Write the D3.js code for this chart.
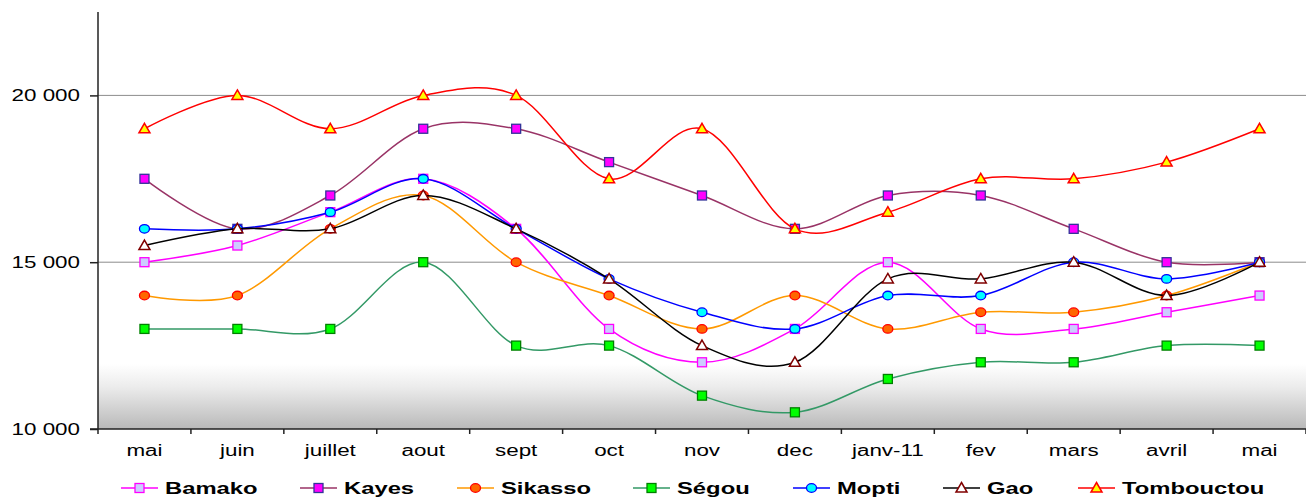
<!DOCTYPE html>
<html><head><meta charset="utf-8">
<script src="https://cdn.jsdelivr.net/npm/d3@7"></script>
<style>body{margin:0;background:#fff}svg{display:block}text{font-family:"Liberation Sans",Arial,sans-serif}</style>
</head><body>
<script>
const months = ["mai","juin","juillet","aout","sept","oct","nov","dec","janv-11","fev","mars","avril","mai"];
const bamako     = [15000,15500,16500,17500,16000,13000,12000,13000,15000,13000,13000,13500,14000];
const kayes      = [17500,16000,17000,19000,19000,18000,17000,16000,17000,17000,16000,15000,15000];
const sikasso    = [14000,14000,16000,17000,15000,14000,13000,14000,13000,13500,13500,14000,15000];
const segou      = [13000,13000,13000,15000,12500,12500,11000,10500,11500,12000,12000,12500,12500];
const mopti      = [16000,16000,16500,17500,16000,14500,13500,13000,14000,14000,15000,14500,15000];
const gao        = [15500,16000,16000,17000,16000,14500,12500,12000,14500,14500,15000,14000,15000];
const tombouctou = [19000,20000,19000,20000,20000,17500,19000,16000,16500,17500,17500,18000,19000];
const seriesNames = ["Bamako","Kayes","Sikasso","Ségou","Mopti","Gao","Tombouctou"];
const yTicks = [10000,15000,20000];
const yTickLabels = ["10 000","15 000","20 000"];

const seriesData = [bamako,kayes,sikasso,segou,mopti,gao,tombouctou];
const styles = [
  {line:"#ff00ff", fill:"#ccccff", stroke:"#ff00ff", shape:"square"},
  {line:"#993366", fill:"#ff00ff", stroke:"#333399", shape:"square"},
  {line:"#ff9900", fill:"#ff6600", stroke:"#ff0000", shape:"circle"},
  {line:"#339966", fill:"#00ff00", stroke:"#008000", shape:"square"},
  {line:"#0000ff", fill:"#00ffff", stroke:"#0000ff", shape:"circle"},
  {line:"#000000", fill:"#ffffff", stroke:"#800000", shape:"triangle"},
  {line:"#ff0000", fill:"#ffff00", stroke:"#ff0000", shape:"triangle"}
];
const legendX = [121,300,457,633,793,943,1078];
const SX = 1.4;

const W=1306,H=498;
const L=98,R=1306,T=12,B=429;
const svg=d3.select("body").append("svg").attr("width",W).attr("height",H);
const x=d3.scaleBand().domain(d3.range(months.length)).range([L,R]);
const y=d3.scaleLinear().domain([10000,22500]).range([B,T]);

const defs=svg.append("defs");
const g=defs.append("linearGradient").attr("id","bg").attr("x1",0).attr("y1",0).attr("x2",0).attr("y2",1);
g.append("stop").attr("offset","0%").attr("stop-color","#ffffff");
g.append("stop").attr("offset","35%").attr("stop-color","#ececec");
g.append("stop").attr("offset","100%").attr("stop-color","#b9b9b9");
const gTop=364;
svg.append("rect").attr("x",L).attr("y",gTop).attr("width",R-L).attr("height",B-gTop).attr("fill","url(#bg)");

// gridlines
svg.selectAll(".grid").data(yTicks.slice(1)).enter().append("line")
  .attr("x1",L).attr("x2",R).attr("y1",d=>y(d)).attr("y2",d=>y(d))
  .attr("stroke","#8c8c8c").attr("stroke-width",1);

function mk(txt,px,py,anchor,opts){
  const t=svg.append("text").attr("transform",`translate(${px},${py}) scale(${SX},1)`)
    .attr("text-anchor",anchor).text(txt);
  if(opts) for(const k in opts) t.attr(k,opts[k]);
  return t;
}

// axes
const yAxis=d3.axisLeft(y).tickValues(yTicks).tickSize(8).tickFormat("");
const ya=svg.append("g").attr("transform",`translate(${L},0)`).call(yAxis);
ya.select(".domain").attr("d",`M0,${T}V${B}`);
ya.selectAll("line,path").attr("stroke","#222").attr("stroke-width",1.5);
yTicks.forEach((v,i)=>mk(yTickLabels[i],80,y(v)+6,"end",{"font-size":16,"fill":"#000"}));

const xTickPos=d3.range(months.length+1).map(i=>L+i*x.step());
svg.append("line").attr("x1",L-8).attr("x2",R).attr("y1",B).attr("y2",B).attr("stroke","#222").attr("stroke-width",1.5);
svg.selectAll(".xt").data(xTickPos).enter().append("line")
  .attr("x1",d=>d).attr("x2",d=>d).attr("y1",B).attr("y2",B+5).attr("stroke","#222").attr("stroke-width",1.5);
months.forEach((m,i)=>mk(m,x(i)+x.bandwidth()/2,456,"middle",{"font-size":16,"fill":"#000"}));

const line=d3.line().x((d,i)=>x(i)+x.bandwidth()/2).y(d=>y(d)).curve(d3.curveCatmullRom.alpha(0));

function marker(sel,shape,st,cx,cy){
  if(shape==="square") sel.append("rect").attr("x",cx-4.5).attr("y",cy-4.5).attr("width",9).attr("height",9)
     .attr("fill",st.fill).attr("stroke",st.stroke).attr("stroke-width",1.3);
  else if(shape==="circle") sel.append("ellipse").attr("cx",cx).attr("cy",cy).attr("rx",5).attr("ry",4.3)
     .attr("fill",st.fill).attr("stroke",st.stroke).attr("stroke-width",1.3);
  else sel.append("path").attr("d",`M${cx},${cy-5.5}L${cx+5.5},${cy+4}L${cx-5.5},${cy+4}Z`)
     .attr("fill",st.fill).attr("stroke",st.stroke).attr("stroke-width",1.5);
}

seriesData.forEach((data,si)=>{
  const st=styles[si];
  const gg=svg.append("g");
  gg.append("path").attr("d",line(data)).attr("fill","none").attr("stroke",st.line).attr("stroke-width",1.5);
  data.forEach((v,i)=>marker(gg,st.shape,st,x(i)+x.bandwidth()/2,y(v)));
});

// legend
seriesNames.forEach((n,si)=>{
  const st=styles[si], lx=legendX[si], ly=488;
  const gg=svg.append("g");
  gg.append("line").attr("x1",lx).attr("x2",lx+37).attr("y1",ly).attr("y2",ly).attr("stroke",st.line).attr("stroke-width",1.5);
  marker(gg,st.shape,st,lx+18.5,ly);
  mk(n,lx+44,494,"start",{"font-size":17,"font-weight":"bold","fill":"#000"});
});
</script>
</body></html>
